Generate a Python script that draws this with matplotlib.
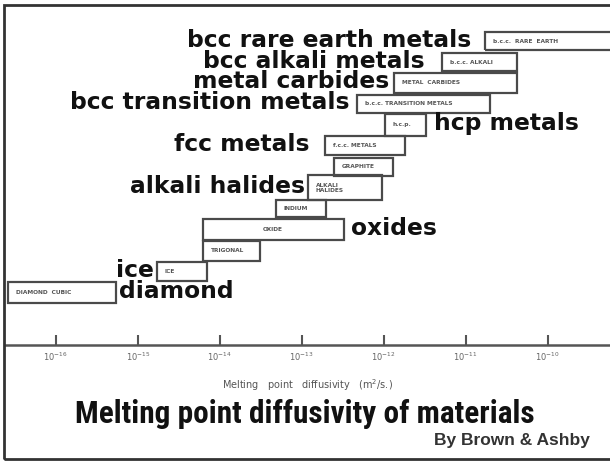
import numpy as np
import matplotlib.pyplot as plt
from matplotlib.patches import Rectangle
from matplotlib import font_manager

# diffusivity ranges at the melting point, log10(D / m^2 s^-1)
classes = ['DIAMOND  CUBIC', 'ICE', 'TRIGONAL', 'OXIDE', 'INDIUM',
           'ALKALI\nHALIDES', 'GRAPHITE', 'f.c.c. METALS', 'h.c.p.',
           'b.c.c. TRANSITION METALS', 'METAL  CARBIDES', 'b.c.c. ALKALI',
           'b.c.c.  RARE  EARTH']
log_d_low = [-16.58, -14.77, -14.21, -14.21, -13.32, -12.93, -12.61, -12.72,
             -11.99, -12.33, -11.87, -11.29, -10.77]
log_d_high = [-15.26, -14.16, -13.51, -12.49, -12.70, -12.02, -11.89, -11.74,
              -11.48, -10.70, -10.37, -10.37, -8.90]

# bold captions beside some of the boxes
captions = {12: 'bcc rare earth metals', 11: 'bcc alkali metals',
            10: 'metal carbides', 9: 'bcc transition metals', 8: 'hcp metals',
            7: 'fcc metals', 5: 'alkali halides', 3: 'oxides', 1: 'ice',
            0: 'diamond'}

tick_exponents = [-16, -15, -14, -13, -12, -11, -10]

# layout: box heights (in rows), caption side and gap (pixels)
box_h = [1.0, 0.9, 0.95, 1.0, 0.8, 1.2, 0.85, 0.9, 1.05, 0.85, 0.95, 0.85, 0.85]
cap_side = {12: ('left', 13), 11: ('left', 17), 10: ('left', 5), 9: ('left', 7),
            8: ('right', 8), 7: ('left', 15), 5: ('left', 3), 3: ('right', 7),
            1: ('left', 3), 0: ('right', 3)}


def first_font(candidates, default='DejaVu Sans'):
    names = {f.name for f in font_manager.fontManager.ttflist}
    for c in candidates:
        if c in names:
            return c
    return default


narrow = first_font(['Roboto Condensed', 'Liberation Sans Narrow',
                     'Open Sans Condensed', 'DejaVu Sans Condensed'], None)

W, H = 610, 461
fig = plt.figure(figsize=(W / 100, H / 100), dpi=100)
ax = fig.add_axes([5 / W, (H - 345) / H, 605 / W, 340 / H])
ax.set_xscale('log')
ax.set_xlim(10 ** -16.62, 10 ** -9.24)
ax.set_ylim(-2.5, 13.72)

edge = '#4a4a4a'
for i, name in enumerate(classes):
    lo, hi = 10 ** log_d_low[i], 10 ** log_d_high[i]
    h = box_h[i]
    ax.add_patch(Rectangle((lo, i - h / 2), hi - lo, h, fill=False,
                           edgecolor=edge, linewidth=1.6, clip_on=True))
    ha = 'center' if name == 'OXIDE' else 'left'
    xt = np.sqrt(lo * hi) if ha == 'center' else lo
    off = 0 if ha == 'center' else 8
    ax.annotate(name, (xt, i), xytext=(off, 0), textcoords='offset pixels',
                ha=ha, va='center', fontsize=4.2, color='#555555',
                fontweight='bold', linespacing=1.1)

for i, text in captions.items():
    side, gap = cap_side[i]
    if side == 'left':
        x, dx, ha = 10 ** log_d_low[i], -gap, 'right'
    else:
        x, dx, ha = 10 ** log_d_high[i], gap, 'left'
    ax.annotate(text, (x, i), xytext=(dx, 1), textcoords='offset pixels',
                ha=ha, va='center', fontsize=16.8, fontweight='bold',
                family='DejaVu Sans', color='#111111')

for s in ['top', 'left', 'right']:
    ax.spines[s].set_visible(False)
ax.spines['bottom'].set_color('#555555')
ax.spines['bottom'].set_linewidth(1.8)
ax.set_yticks([])
ax.set_xticks([10.0 ** e for e in tick_exponents])
ax.set_xticklabels([f'$10^{{{e}}}$' for e in tick_exponents])
ax.xaxis.set_minor_locator(plt.NullLocator())
ax.tick_params(axis='x', direction='in', length=7, width=1.5, color='#555555',
               labelsize=6, labelcolor='#666666', pad=4)
ax.set_xlabel('Melting   point   diffusivity   (m$^2$/s.)', fontsize=7,
              color='#555555', labelpad=10)

if narrow:
    fig.text(0.5, (H - 414) / H, 'Melting point diffusivity of materials',
             ha='center', va='center', fontsize=22.5, fontweight='bold',
             family=narrow, color='#111111')
else:
    fig.text(0.5, (H - 414) / H, 'Melting point diffusivity of materials',
             ha='center', va='center', fontsize=16, fontweight='bold',
             family='DejaVu Sans', color='#111111')
fig.text(590 / W, (H - 440) / H, 'By Brown & Ashby', ha='right', va='center',
         fontsize=12.5, fontweight='bold', family='Liberation Sans',
         color='#333333')

fig.add_artist(Rectangle((4 / W, (H - 459) / H), 610 / W, 454 / H,
                         transform=fig.transFigure, fill=False,
                         edgecolor='#333333', linewidth=2))

fig.savefig('out.png', dpi=100)
